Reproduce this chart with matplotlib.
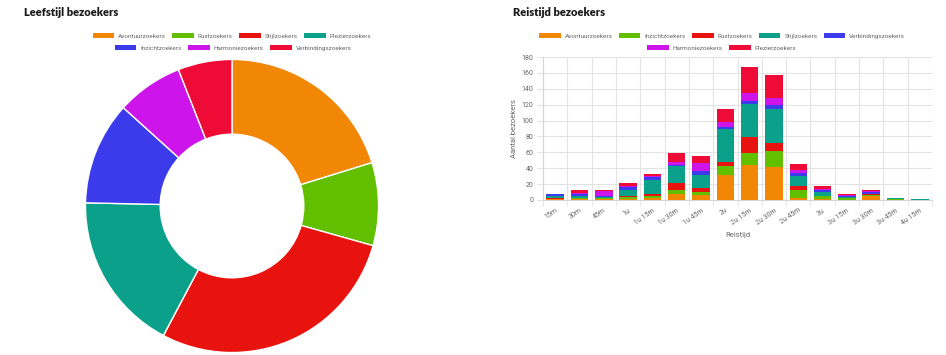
import numpy as np
import matplotlib
matplotlib.use("Agg")
import matplotlib.pyplot as plt
from matplotlib.patches import Patch

plt.rcParams['font.family'] = ['Roboto', 'DejaVu Sans']

# donut: leefstijl
leefstijl_labels = ["Avontuurzoekers", "Rustzoekers", "Stijlzoekers", "Plezierzoekers",
                    "Inzichtzoekers", "Harmoniezoekers", "Verbindingszoekers"]
leefstijl_values = [146, 66, 205, 127, 82, 53, 43]

# stacked bars: reistijd
reistijd = ["15m", "30m", "45m", "1u", "1u 15m", "1u 30m", "1u 45m", "2u", "2u 15m",
            "2u 30m", "2u 45m", "3u", "3u 15m", "3u 30m", "3u 45m", "4u 15m"]
avontuur   = [1, 1, 1, 1, 3, 7, 6, 31, 44, 42, 3, 1, 0, 5, 0, 0]
inzicht    = [0, 1, 1, 3, 2, 5, 4, 12, 15, 20, 10, 4, 2, 1, 1, 0]
rust       = [2, 0, 1, 1, 3, 10, 5, 5, 20, 10, 5, 0, 0, 1, 0, 0]
stijl      = [2, 3, 1, 7, 17, 21, 17, 41, 42, 42, 12, 5, 2, 1, 1, 1]
verbinding = [2, 2, 1, 4, 4, 1, 5, 3, 4, 6, 4, 3, 1, 2, 0, 0]
harmonie   = [0, 2, 6, 2, 1, 4, 10, 6, 10, 9, 4, 1, 1, 1, 0, 0]
plezier    = [0, 3, 1, 4, 3, 11, 9, 17, 32, 28, 7, 3, 2, 1, 0, 0]

palette = ["#F28705", "#62BF00", "#E8130F", "#0AA08A", "#3B3BEC", "#CD14EA", "#EE0C36"]
grey = "#666666"

fig = plt.figure(figsize=(9.46, 3.55), dpi=100)
W, H = 946, 355

def fx(px):
    return px / W

def fy(py):
    return 1 - py / H

# titles
fig.text(fx(24), fy(12), "Leefstijl bezoekers", fontsize=8, fontweight="heavy",
         family=["Lato", "DejaVu Sans"], va="center", ha="left", color="#1a1a1a")
fig.text(fx(513), fy(12), "Reistijd bezoekers", fontsize=8, fontweight="heavy",
         family=["Lato", "DejaVu Sans"], va="center", ha="left", color="#1a1a1a")

# ---- donut ----
cx, cy, r = 232, 206, 148
ax1 = fig.add_axes([fx(cx - r), fy(cy + r), 2 * r / W, 2 * r / H])
ax1.pie(leefstijl_values, colors=palette, startangle=90, counterclock=False,
        radius=1, wedgeprops=dict(width=0.51, edgecolor="white", linewidth=1))
ax1.set_xlim(-1.01, 1.01)
ax1.set_ylim(-1.01, 1.01)
ax1.set_aspect("equal")
ax1.axis("off")

def legend_row(labels, colors, xc, yc):
    handles = [Patch(facecolor=c, edgecolor="none") for c in colors]
    lg = fig.legend(handles, labels, loc="center", bbox_to_anchor=(fx(xc), fy(yc)),
                    ncol=len(labels), frameon=False, fontsize=4.6, handlelength=3.4,
                    handleheight=0.8, handletextpad=0.6, columnspacing=1.0,
                    borderpad=0, borderaxespad=0)
    for t in lg.get_texts():
        t.set_color(grey)
    return lg

legend_row(leefstijl_labels[:4], palette[:4], 232, 36)
legend_row(leefstijl_labels[4:], palette[4:], 233, 48)

# ---- stacked bars ----
series = [avontuur, inzicht, rust, stijl, verbinding, harmonie, plezier]
series_labels = ["Avontuurzoekers", "Inzichtzoekers", "Rustzoekers", "Stijlzoekers",
                 "Verbindingszoekers", "Harmoniezoekers", "Plezierzoekers"]

ax2 = fig.add_axes([fx(543), fy(200), 389 / W, 143 / H])
x = np.arange(len(reistijd))
bottom = np.zeros(len(reistijd))
for vals, col in zip(series, palette):
    ax2.bar(x, vals, bottom=bottom, width=0.72, color=col, zorder=3)
    bottom += np.array(vals)

ax2.set_xlim(-0.5, len(reistijd) - 0.5)
ax2.set_ylim(0, 180)
ax2.set_yticks(range(0, 181, 20))
ax2.set_xticks(x)
ax2.set_xticklabels(reistijd, rotation=35, ha="right", rotation_mode="anchor")
ax2.set_xticks(np.arange(-0.5, len(reistijd)), minor=True)
ax2.tick_params(axis="x", which="major", length=0, labelsize=5, colors=grey, pad=5)
ax2.tick_params(axis="x", which="minor", length=4, color="#e3e3e3")
ax2.tick_params(axis="y", which="major", length=4, color="#e3e3e3", labelsize=5,
                labelcolor=grey, pad=3)
ax2.grid(axis="y", which="major", color="#e3e3e3", linewidth=0.8, zorder=0)
ax2.grid(axis="x", which="minor", color="#e3e3e3", linewidth=0.8, zorder=0)
for s in ["top", "right"]:
    ax2.spines[s].set_visible(False)
for s in ["left", "bottom"]:
    ax2.spines[s].set_color("#d5d5d5")
    ax2.spines[s].set_linewidth(0.8)
ax2.set_ylabel("Aantal bezoekers", fontsize=5.5, color=grey, labelpad=3)
ax2.set_xlabel("Reistijd", fontsize=5.5, color=grey, labelpad=4)

legend_row(series_labels[:5], palette[:5], 722, 36)
legend_row(series_labels[5:], palette[5:], 722, 48)

fig.savefig("out.png", dpi=100)
